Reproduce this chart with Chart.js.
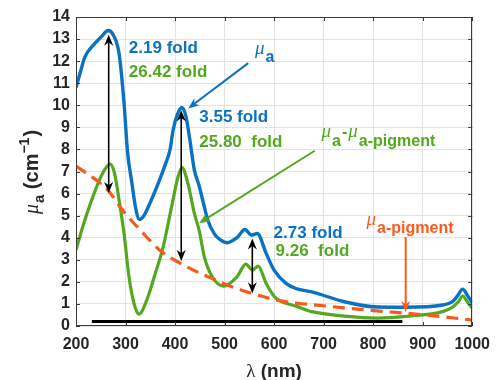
<!DOCTYPE html>
<html><head><meta charset="utf-8">
<script src="https://cdn.jsdelivr.net/npm/chart.js@4"></script>
<style>html,body{margin:0;padding:0;background:#fff}</style>
</head><body>
<canvas id="c" width="499" height="380"></canvas>
<script>
// ---- data ----
const xTicks = [200,300,400,500,600,700,800,900,1000];
const yTicks = [0,1,2,3,4,5,6,7,8,9,10,11,12,13,14];

const muaX = [200,210,218,234,251,265,275,287,297,304,313,320,328,337,346,366,380,390,396,405,414,422,429,439,448,458,466,480,492,505,525,541,554,566,584,600,624,644,676,742,808,867,940,960,970,981,990,1000];
const muaY = [10.8,11.6,12.19,12.7,13.1,13.39,13.2,12.34,10.1,7.9,6.46,5.4,4.83,5.0,5.4,6.46,7.3,8.0,8.87,9.6,9.9,9.5,8.57,7.06,6.4,5.5,4.8,4.15,3.9,3.77,4.0,4.37,4.12,4.19,3.29,2.53,1.93,1.7,1.55,1.1,0.86,0.85,0.95,1.1,1.35,1.67,1.4,1.05];

const diffX = [200,215,230,247,260,269,278,287,297,307,317,327,343,360,376,393,406,414,426,439,449,459,475,498,525,543,556,568,584,604,624,644,676,742,808,874,940,960,972,981,990,1000];
const diffY = [3.44,4.6,5.6,6.6,7.15,7.33,6.9,5.7,4.19,2.23,1.03,0.54,1.18,2.38,3.59,5.4,6.76,7.18,6.46,5.1,4.3,3.14,2.23,1.81,2.23,2.8,2.53,2.71,1.93,1.25,1.03,0.9,0.65,0.45,0.36,0.45,0.65,0.85,1.1,1.36,1.1,0.8];

const pigX = [200,250,267,294,330,373,410,440,472,498,544,591,637,676,742,800,867,940,1000];
const pigY = [7.25,6.45,6.08,5.25,4.34,3.36,2.85,2.5,2.18,1.93,1.55,1.25,1.05,0.97,0.82,0.7,0.58,0.42,0.27];

const baseX = [232,859];
const baseY = [0.2,0.2];

// annotation texts (data coordinates)
const foldLabels = [
  {t:'2.19 fold', x:306.7, y:12.58, c:'blue'},
  {t:'26.42 fold', x:306.7, y:11.50, c:'green'},
  {t:'3.55 fold', x:448.9, y:9.46, c:'blue'},
  {t:'25.80  fold', x:448.9, y:8.33, c:'green'},
  {t:'2.73 fold', x:599, y:4.21, c:'blue'},
  {t:'9.26  fold', x:603, y:3.40, c:'green'}
];
const doubleArrows = [
  {x:266, y1:13.2, y2:6.03},
  {x:412.5, y1:9.77, y2:2.95},
  {x:556, y1:3.97, y2:1.48}
];
const pointerArrows = [
  {x1:547.7, y1:11.91, x2:426.6, y2:9.86, c:'blue'},
  {x1:682, y1:7.94, x2:448.3, y2:4.65, c:'green'},
  {x1:865.7, y1:4.03, x2:865.7, y2:0.63, c:'orange'}
];

const COL = {blue:'#0a72c2', green:'#52a81e', orange:'#f95a1c', black:'#000'};
const pts = (xs, ys) => xs.map((v,i)=>({x:v, y:ys[i]}));

function arrowHead(ctx, x1, y1, x2, y2, len, hw){
  const a = Math.atan2(y2-y1, x2-x1);
  ctx.beginPath();
  ctx.moveTo(x2, y2);
  ctx.lineTo(x2 - len*Math.cos(a) + hw*Math.sin(a), y2 - len*Math.sin(a) - hw*Math.cos(a));
  ctx.lineTo(x2 - 0.7*len*Math.cos(a), y2 - 0.7*len*Math.sin(a));
  ctx.lineTo(x2 - len*Math.cos(a) - hw*Math.sin(a), y2 - len*Math.sin(a) + hw*Math.cos(a));
  ctx.closePath();
  ctx.fill();
}
function rich(ctx, x, y, parts){
  let cx = x;
  parts.forEach(p=>{
    ctx.font = p.f;
    ctx.fillText(p.t, cx, y + (p.dy||0));
    cx += ctx.measureText(p.t).width + (p.sp||0);
  });
  return cx - x;
}
function richWidth(ctx, parts){
  let w=0; parts.forEach(p=>{ctx.font=p.f; w+=ctx.measureText(p.t).width+(p.sp||0);}); return w;
}

const FF = "'Liberation Sans', Arial, sans-serif";
const MU = "italic 19px 'Liberation Serif', serif";

const deco = {
  id:'deco',
  afterDatasetsDraw(chart){
    const {ctx, chartArea:a, scales:{x, y}} = chart;
    ctx.save();
    // box + inward ticks
    ctx.strokeStyle = '#3a3a3a'; ctx.lineWidth = 1;
    ctx.strokeRect(Math.round(a.left)+0.5, Math.round(a.top)+0.5, Math.round(a.right-a.left)-1, Math.round(a.bottom-a.top)-1);
    ctx.beginPath();
    xTicks.forEach(v=>{const px=Math.round(x.getPixelForValue(v))+0.5;
      ctx.moveTo(px,a.bottom); ctx.lineTo(px,a.bottom-4); ctx.moveTo(px,a.top); ctx.lineTo(px,a.top+4);});
    yTicks.forEach(v=>{const py=Math.round(y.getPixelForValue(v))+0.5;
      ctx.moveTo(a.left,py); ctx.lineTo(a.left+4,py); ctx.moveTo(a.right,py); ctx.lineTo(a.right-4,py);});
    ctx.stroke();

    // double arrows
    ctx.strokeStyle = '#000'; ctx.fillStyle = '#000'; ctx.lineWidth = 1.6;
    doubleArrows.forEach(d=>{
      const px = x.getPixelForValue(d.x), p1 = y.getPixelForValue(d.y1), p2 = y.getPixelForValue(d.y2);
      ctx.beginPath(); ctx.moveTo(px, p1+6); ctx.lineTo(px, p2-6); ctx.stroke();
      arrowHead(ctx, px, p2, px, p1, 11, 4.5);
      arrowHead(ctx, px, p1, px, p2, 11, 4.5);
    });
    // pointer arrows
    pointerArrows.forEach(d=>{
      const x1=x.getPixelForValue(d.x1), y1=y.getPixelForValue(d.y1), x2=x.getPixelForValue(d.x2), y2=y.getPixelForValue(d.y2);
      ctx.strokeStyle = COL[d.c]; ctx.fillStyle = COL[d.c]; ctx.lineWidth = 2;
      const ang = Math.atan2(y2-y1, x2-x1);
      ctx.beginPath(); ctx.moveTo(x1,y1); ctx.lineTo(x2-6*Math.cos(ang), y2-6*Math.sin(ang)); ctx.stroke();
      arrowHead(ctx, x1, y1, x2, y2, 11, 4.5);
    });

    // fold labels
    ctx.textBaseline = 'middle'; ctx.textAlign = 'left';
    ctx.font = "bold 17px " + FF;
    foldLabels.forEach(l=>{
      ctx.fillStyle = COL[l.c];
      ctx.fillText(l.t, x.getPixelForValue(l.x), y.getPixelForValue(l.y));
    });

    // series labels
    ctx.textBaseline = 'alphabetic';
    const SUB = "bold 16px " + FF;
    ctx.fillStyle = COL.blue;
    rich(ctx, x.getPixelForValue(561.5), y.getPixelForValue(12.31), [
      {t:'\u03bc', f:MU, sp:1}, {t:'a', f:SUB, dy:8}
    ]);
    ctx.fillStyle = COL.green;
    rich(ctx, x.getPixelForValue(695.8), y.getPixelForValue(8.56), [
      {t:'\u03bc', f:MU, sp:1}, {t:'a', f:SUB, dy:9, sp:1}, {t:'-', f:"bold 16px "+FF, sp:1},
      {t:'\u03bc', f:MU, sp:1}, {t:'a-pigment', f:SUB, dy:9}
    ]);
    ctx.fillStyle = COL.orange;
    rich(ctx, x.getPixelForValue(786.7), y.getPixelForValue(4.57), [
      {t:'\u03bc', f:MU, sp:1}, {t:'a-pigment', f:SUB, dy:8}
    ]);

    // axis titles
    ctx.fillStyle = '#262626';
    const xt = [{t:'\u03bb', f:"19px 'Liberation Serif', serif"}, {t:' (nm)', f:"bold 19px "+FF}];
    const xw = richWidth(ctx, xt);
    rich(ctx, (a.left+a.right)/2 - xw/2, 377, xt);

    const yt = [{t:'\u03bc', f:"italic 20px 'Liberation Serif', serif", sp:1}, {t:'a', f:"bold 15px "+FF, dy:6},
      {t:' (cm', f:"bold 20px "+FF}, {t:'\u22121', f:"bold 14px "+FF, dy:-9, sp:1}, {t:')', f:"bold 20px "+FF}];
    const yw = richWidth(ctx, yt);
    ctx.translate(38, 172);
    ctx.rotate(-Math.PI/2);
    rich(ctx, -yw/2, 0, yt);
    ctx.restore();
  }
};

new Chart(document.getElementById('c'), {
  type:'line',
  data:{datasets:[
    {data:pts(baseX, baseY), borderColor:COL.black, borderWidth:3, pointRadius:0},
    {data:pts(pigX, pigY), borderColor:COL.orange, borderWidth:3.2, borderDash:[12,7], pointRadius:0, cubicInterpolationMode:'monotone'},
    {data:pts(diffX, diffY), borderColor:COL.green, borderWidth:3.2, pointRadius:0, cubicInterpolationMode:'monotone'},
    {data:pts(muaX, muaY), borderColor:COL.blue, borderWidth:3.4, pointRadius:0, cubicInterpolationMode:'monotone'}
  ]},
  options:{
    responsive:false, animation:false,
    layout:{padding:{left:0, right:18, top:17, bottom:0}},
    plugins:{legend:{display:false}, tooltip:{enabled:false}},
    scales:{
      x:{type:'linear', min:200, max:1000,
        afterBuildTicks(s){ s.ticks = xTicks.map(v=>({value:v})); },
        afterFit(s){ s.height = 54; },
        grid:{color:'#e3e3e3', drawTicks:false}, border:{display:false},
        ticks:{color:'#262626', font:{family:"'Liberation Sans'", size:16, weight:'bold'}, padding:9, maxRotation:0, autoSkip:false,
          callback:(v)=>String(v)}
      },
      y:{type:'linear', min:0, max:14,
        afterBuildTicks(s){ s.ticks = yTicks.map(v=>({value:v})); },
        afterFit(s){ s.width = 76; },
        grid:{color:'#e3e3e3', drawTicks:false}, border:{display:false},
        ticks:{color:'#262626', font:{family:"'Liberation Sans'", size:16, weight:'bold'}, padding:6, autoSkip:false,
          callback:(v)=>String(v)}
      }
    }
  },
  plugins:[deco]
});
</script>
</body></html>
